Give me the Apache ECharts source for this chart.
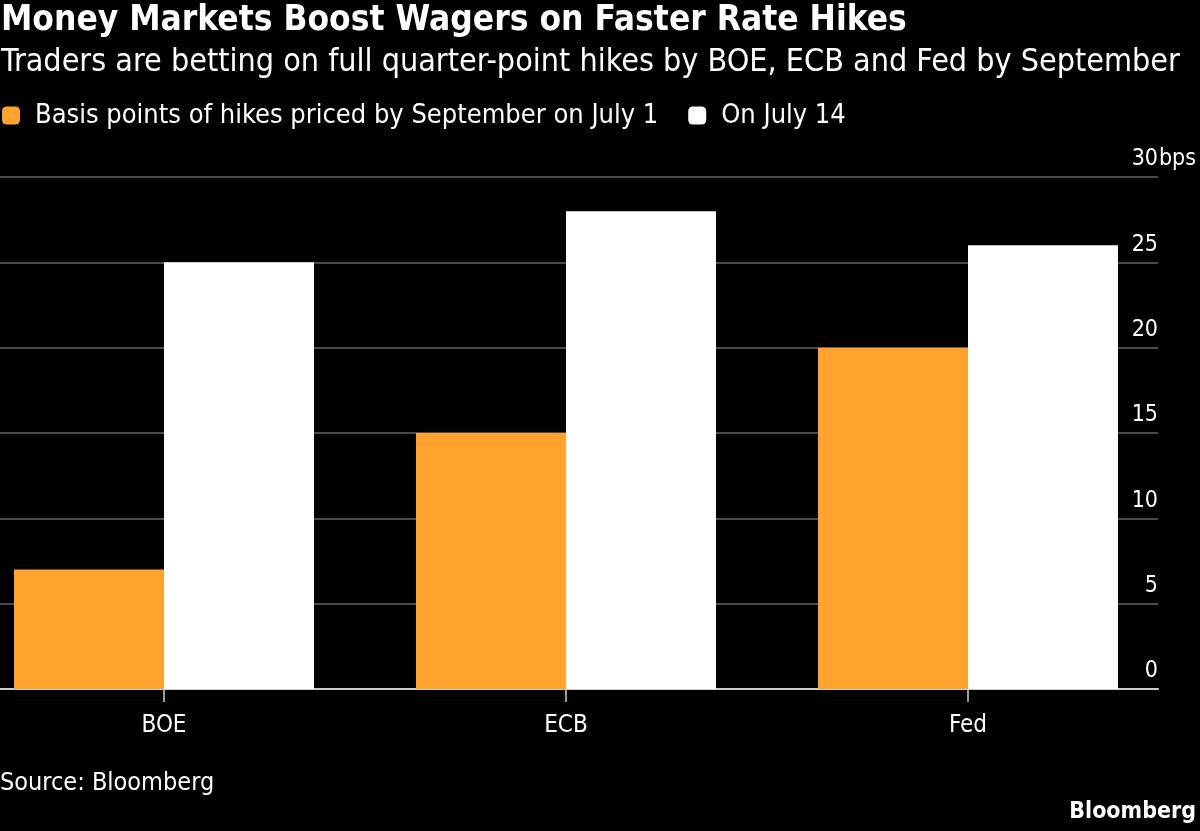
<!DOCTYPE html>
<html>
<head>
<meta charset="utf-8">
<script src="https://cdn.jsdelivr.net/npm/echarts@6/dist/echarts.min.js"></script>
<style>
  html, body { margin: 0; padding: 0; background: #000; }
  #chart { width: 1200px; height: 831px; }
</style>
</head>
<body>
<div id="chart"></div>
<script>
// data
var categories = ['BOE', 'ECB', 'Fed'];
var july1 = [7, 15, 20];
var july14 = [25, 28, 26];
var seriesNames = ['Basis points of hikes priced by September on July 1', 'On July 14'];

var font = '"DejaVu Sans Condensed", "DejaVu Sans", sans-serif';
var myChart = echarts.init(document.getElementById('chart'));

var option = {
    backgroundColor: '#000',
    textStyle: { fontFamily: font },
    title: [{
        text: 'Money Markets Boost Wagers on Faster Rate Hikes',
        subtext: 'Traders are betting on full quarter-point hikes by BOE, ECB and Fed by September',
        left: 1,
        top: 3,
        padding: 0,
        itemGap: 9,
        textStyle: { color: '#fff', fontSize: 35, fontWeight: 'bold', fontFamily: font },
        subtextStyle: { color: '#fff', fontSize: 32, fontFamily: font }
    }, {
        text: 'Source: Bloomberg',
        left: 0,
        top: 771,
        padding: 0,
        textStyle: { color: '#fff', fontSize: 25, fontWeight: 'normal', fontFamily: font }
    }, {
        text: 'Bloomberg',
        right: 4,
        top: 801,
        padding: 0,
        textStyle: { color: '#fff', fontSize: 23, fontWeight: 'bold', fontFamily: font }
    }],
    legend: {
        left: 2,
        top: 102,
        padding: 0,
        icon: 'roundRect',
        itemWidth: 18,
        itemHeight: 18,
        itemGap: 30,
        textStyle: { color: '#fff', fontSize: 27, fontFamily: font, padding: [0, 0, 0, 10] },
        data: seriesNames
    },
    grid: [
        { left: -37, right: 31, top: 177, bottom: 142, outerBoundsMode: 'none' },
        { left: 0, right: 42, top: 177, bottom: 142, outerBoundsMode: 'none' }
    ],
    xAxis: [{
        type: 'category',
        gridIndex: 0,
        data: categories,
        axisLine: { show: false },
        axisTick: { show: true, alignWithLabel: true, length: 13, lineStyle: { color: '#ccc', width: 1.5 } },
        axisLabel: { color: '#fff', fontSize: 24, margin: 25, fontFamily: font }
    }, {
        type: 'value',
        gridIndex: 1,
        min: 0,
        max: 1,
        axisLine: { show: true, lineStyle: { color: '#ccc', width: 2 } },
        axisTick: { show: false },
        axisLabel: { show: false },
        splitLine: { show: false }
    }],
    yAxis: [{
        type: 'value',
        gridIndex: 0,
        min: 0,
        max: 30,
        interval: 5,
        axisLine: { show: false },
        axisTick: { show: false },
        axisLabel: { show: false },
        splitLine: { show: false }
    }, {
        type: 'value',
        gridIndex: 1,
        position: 'right',
        min: 0,
        max: 30,
        interval: 5,
        axisLine: { show: false },
        axisTick: { show: false },
        axisLabel: {
            inside: true,
            color: '#fff',
            fontSize: 23,
            fontFamily: font,
            margin: -38,
            verticalAlign: 'bottom',
            padding: [0, 0, 6, 0],
            formatter: function (v) {
                return v === 30 ? '{a|30}{b|bps}' : '{a|' + v + '}{b|}';
            },
            rich: {
                a: { color: '#fff', fontSize: 23, fontFamily: font },
                b: { color: '#fff', fontSize: 23, fontFamily: font, width: 38 }
            }
        },
        splitLine: { show: true, lineStyle: { color: '#666', width: 1.5 } }
    }],
    series: [{
        name: seriesNames[0],
        type: 'bar',
        xAxisIndex: 0,
        yAxisIndex: 0,
        data: july1,
        barWidth: 150,
        barGap: '0%',
        itemStyle: { color: '#FFA32E' },
        z: 3
    }, {
        name: seriesNames[1],
        type: 'bar',
        xAxisIndex: 0,
        yAxisIndex: 0,
        data: july14,
        barWidth: 150,
        barGap: '0%',
        itemStyle: { color: '#FFFFFF' },
        z: 3
    }]
};

myChart.setOption(option);
</script>
</body>
</html>
